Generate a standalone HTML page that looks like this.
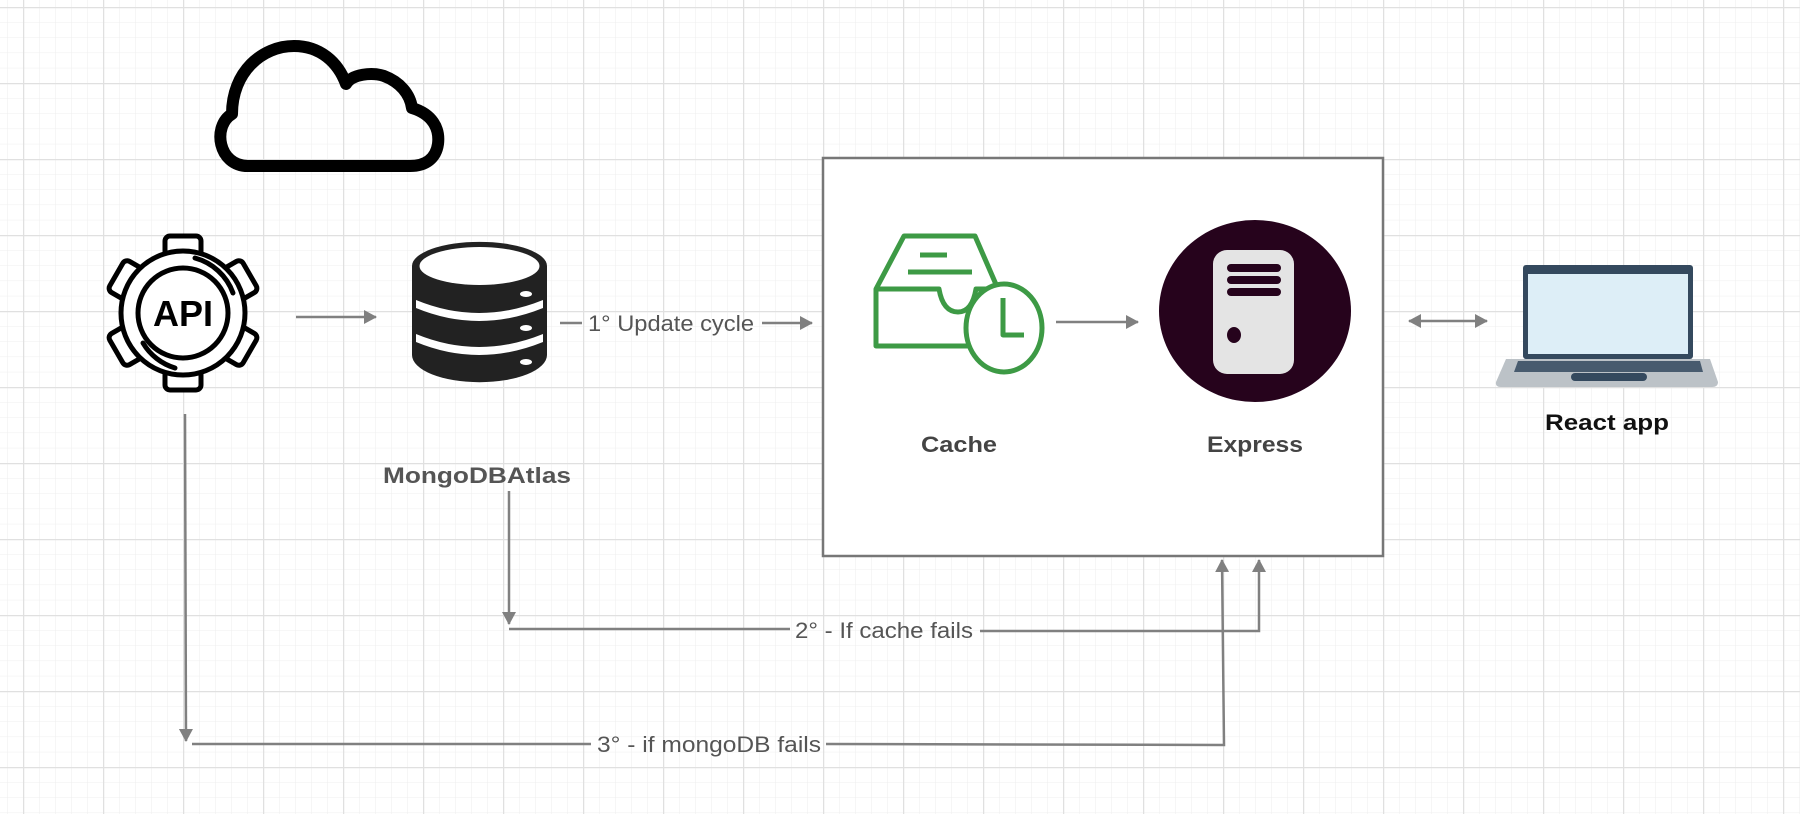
<!DOCTYPE html>
<html><head><style>
html,body{margin:0;padding:0;background:#fff}
svg{display:block}
text{font-family:"Liberation Sans",sans-serif}
</style></head><body>
<svg width="1800" height="814" viewBox="0 0 1800 814" xmlns="http://www.w3.org/2000/svg">
<defs>
<pattern id="minor" x="7" y="7" width="16" height="15.2" patternUnits="userSpaceOnUse">
<path d="M0 0H16M0 0V15.2" stroke="#eeeeee" stroke-width="1" fill="none"/>
</pattern>
<pattern id="major" x="23" y="7" width="80" height="76" patternUnits="userSpaceOnUse">
<path d="M0 0.5H80M0.5 0V76" stroke="#e0e0e0" stroke-width="1.5" fill="none"/>
</pattern>
<marker id="ah" markerWidth="14" markerHeight="14" refX="12" refY="7" orient="auto" markerUnits="userSpaceOnUse">
<path d="M0 0L13 7L0 14Z" fill="#808080"/>
</marker>
<marker id="ahs" markerWidth="14" markerHeight="14" refX="1" refY="7" orient="auto" markerUnits="userSpaceOnUse">
<path d="M13 0L0 7L13 14Z" fill="#808080"/>
</marker>
</defs>
<rect width="1800" height="814" fill="url(#minor)"/>
<rect width="1800" height="814" fill="url(#major)"/>

<!-- cloud -->
<path d="M248 166 C218 166 212 126 232 114 C232 72 262 46 294 46 C320 46 338 62 346 84 C352 74 372 72 384 76 C400 82 410 94 412 108 C432 114 440 128 438 144 C436 158 426 166 410 166 Z" fill="none" stroke="#000" stroke-width="12" stroke-linejoin="round"/>

<!-- gear -->
<g transform="translate(183,313)" stroke="#000" stroke-width="5" fill="#fff">
<g>
<rect x="-18" y="-77" width="36" height="30" rx="5"/>
<rect x="-18" y="-77" width="36" height="30" rx="5" transform="rotate(60)"/>
<rect x="-18" y="-77" width="36" height="30" rx="5" transform="rotate(120)"/>
<rect x="-18" y="-77" width="36" height="30" rx="5" transform="rotate(180)"/>
<rect x="-18" y="-77" width="36" height="30" rx="5" transform="rotate(240)"/>
<rect x="-18" y="-77" width="36" height="30" rx="5" transform="rotate(300)"/>
</g>
<circle r="62"/>
<circle r="45"/>
<path d="M12 -55 A56 56 0 0 1 50 -20" fill="none" stroke-linecap="round"/>
<path d="M-40 30 A56 56 0 0 0 -8 55" fill="none" stroke-linecap="round"/>
<text x="0" y="13" text-anchor="middle" font-size="36" font-weight="bold" fill="#000" stroke="none">API</text>
</g>

<line x1="296" y1="317" x2="376" y2="317" stroke="#808080" stroke-width="2.5" marker-end="url(#ah)"/>

<!-- database -->
<g>
<path d="M412 266 A67 24 0 0 1 547 266 V355 A67 27 0 0 1 412 355 Z" fill="#222"/>
<ellipse cx="479.5" cy="266" rx="60" ry="19" fill="#fff"/>
<path d="M416 300 Q479 326 543 300 V308 Q479 334 416 308 Z" fill="#fff"/>
<path d="M416 334 Q479 360 543 334 V342 Q479 368 416 342 Z" fill="#fff"/>
<ellipse cx="526" cy="294" rx="6" ry="3" fill="#fff"/>
<ellipse cx="526" cy="328" rx="6" ry="3" fill="#fff"/>
<ellipse cx="526" cy="362" rx="6" ry="3" fill="#fff"/>
</g>

<line x1="560" y1="323" x2="582" y2="323" stroke="#808080" stroke-width="2.5"/>
<text x="588" y="331" font-size="22" fill="#555" textLength="166" lengthAdjust="spacingAndGlyphs">1° Update cycle</text>
<line x1="762" y1="323" x2="812" y2="323" stroke="#808080" stroke-width="2.5" marker-end="url(#ah)"/>

<rect x="823" y="158" width="560" height="398" fill="#fff" stroke="#777" stroke-width="2.5"/>

<!-- cache icon -->
<g fill="none" stroke="#3d9a45" stroke-width="5" stroke-linejoin="round">
<path d="M876 289 L904 236 H975 L998 289 H976 Q972 312 958 312 Q943 312 939 289 Z"/>
<path d="M876 289 V346 H968"/>
<path d="M920 255 H947 M908 272 H972"/>
<ellipse cx="1004" cy="328" rx="38" ry="44" fill="#fff"/>
<path d="M1003 298 V335 H1024"/>
</g>
<text x="959" y="452" text-anchor="middle" font-size="22" font-weight="bold" fill="#444" textLength="76" lengthAdjust="spacingAndGlyphs">Cache</text>

<line x1="1056" y1="322" x2="1138" y2="322" stroke="#808080" stroke-width="2.5" marker-end="url(#ah)"/>

<ellipse cx="1255" cy="311" rx="96" ry="91" fill="#26031c"/>
<rect x="1213" y="250" width="81" height="124" rx="14" fill="#e4e4e4"/>
<rect x="1227" y="264" width="54" height="8" rx="4" fill="#26031c"/>
<rect x="1227" y="276" width="54" height="8" rx="4" fill="#26031c"/>
<rect x="1227" y="288" width="54" height="8" rx="4" fill="#26031c"/>
<ellipse cx="1234" cy="335" rx="7" ry="8" fill="#26031c"/>
<text x="1255" y="452" text-anchor="middle" font-size="22" font-weight="bold" fill="#444" textLength="96" lengthAdjust="spacingAndGlyphs">Express</text>

<line x1="1409" y1="321" x2="1487" y2="321" stroke="#808080" stroke-width="2.5" marker-start="url(#ahs)" marker-end="url(#ah)"/>

<!-- laptop -->
<rect x="1523" y="265" width="170" height="94" rx="3" fill="#34495e"/>
<rect x="1528" y="274" width="160" height="80" fill="#ddeef7"/>
<path d="M1506 359 H1710 L1718 382 Q1718 387 1712 387 H1501 Q1495 387 1496 382 Z" fill="#bcc2c7"/>
<path d="M1518 361 H1700 L1703 372 H1514 Z" fill="#34495e" opacity="0.85"/>
<rect x="1571" y="373" width="76" height="8" rx="4" fill="#34495e"/>
<text x="1607" y="430" text-anchor="middle" font-size="22" font-weight="bold" fill="#111" textLength="124" lengthAdjust="spacingAndGlyphs">React app</text>

<text x="477" y="483" text-anchor="middle" font-size="22" font-weight="bold" fill="#555" textLength="188" lengthAdjust="spacingAndGlyphs">MongoDBAtlas</text>
<line x1="509" y1="491" x2="509" y2="624" stroke="#808080" stroke-width="2.5" marker-end="url(#ah)"/>
<line x1="509" y1="629" x2="790" y2="629" stroke="#808080" stroke-width="2.5"/>
<text x="795" y="638" font-size="22" fill="#555" textLength="178" lengthAdjust="spacingAndGlyphs">2° - If cache fails</text>
<polyline points="980,631 1259,631 1259,560" fill="none" stroke="#808080" stroke-width="2.5" marker-end="url(#ah)"/>

<line x1="185" y1="414" x2="186" y2="741" stroke="#808080" stroke-width="2.5" marker-end="url(#ah)"/>
<line x1="192" y1="744" x2="591" y2="744" stroke="#808080" stroke-width="2.5"/>
<text x="597" y="752" font-size="22" fill="#555" textLength="224" lengthAdjust="spacingAndGlyphs">3° - if mongoDB fails</text>
<polyline points="826,744 1224,745 1222,560" fill="none" stroke="#808080" stroke-width="2.5" marker-end="url(#ah)"/>
</svg>
</body></html>
